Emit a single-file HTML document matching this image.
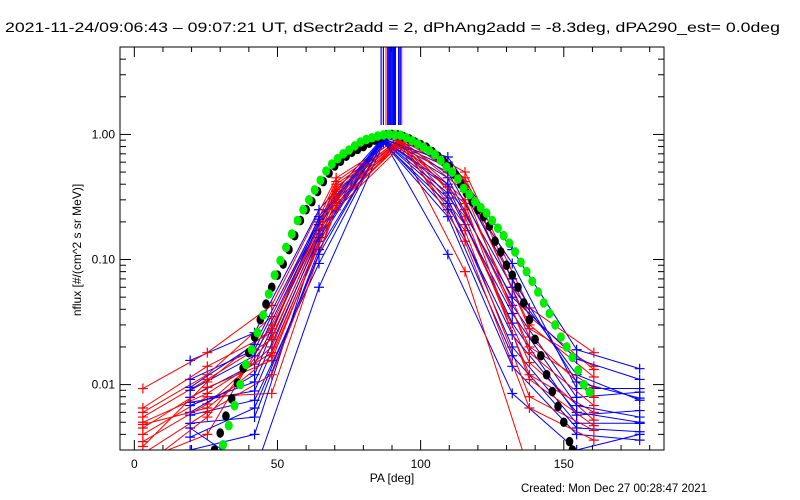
<!DOCTYPE html>
<html><head><meta charset="utf-8"><style>
body{margin:0;background:#fff;}
svg{display:block;font-family:"Liberation Sans",sans-serif;}
</style></head><body>
<svg id="chart" width="800" height="500" xmlns="http://www.w3.org/2000/svg">
<rect width="800" height="500" fill="#fff"/>
<text x="5" y="32" font-size="14" fill="#000" textLength="775" lengthAdjust="spacingAndGlyphs">2021-11-24/09:06:43 – 09:07:21 UT, dSectr2add = 2, dPhAng2add = -8.3deg, dPA290_est=  0.0deg</text>
<text x="521" y="492" font-size="11.5">Created: Mon Dec 27 00:28:47 2021</text>
<defs><clipPath id="clip"><rect x="120" y="47" width="544" height="403"/></clipPath></defs>
<g id="axes"></g>
<g id="marks" clip-path="url(#clip)"></g>
<rect x="120" y="47" width="544" height="403" fill="none" stroke="#000" stroke-width="1"/>
</svg>
<script>
const redAngles=[3,25.5,48,70.5,93,115.5,138,160.5];
const redSeries=[
[0.0093,0.018,0.043,0.45,0.95,0.50,0.041,0.018],
[0.0065,0.014,0.026,0.40,0.92,0.45,0.035,0.0132],
[0.0055,0.011,0.023,0.35,0.90,0.38,0.030,0.0115],
[0.0045,0.0095,0.0156,0.30,0.88,0.30,0.024,0.0079],
[0.004,0.008,0.0085,0.28,0.85,0.19,0.015,0.0052],
[0.0035,0.007,0.02,0.33,0.82,0.17,0.008,0.0043],
[0.0028,0.006,0.012,0.25,0.80,0.08,0.002,0.0025],
[0.0025,0.004,0.03,0.38,0.93,0.25,0.02,0.0095],
[0.006,0.012,0.035,0.42,0.97,0.42,0.028,0.014],
[0.005,0.0085,0.018,0.30,0.87,0.22,0.012,0.006],
[0.0032,0.0105,0.028,0.36,0.91,0.35,0.018,0.0068],
[0.0048,0.0065,0.017,0.27,0.84,0.28,0.011,0.0047],
[0.0022,0.0055,0.024,0.32,0.89,0.14,0.0065,0.0036]
];
const blueAngles=[19.5,42,64.5,87,109.5,132,154.5,176.5];
const blueSeries=[
[0.0156,0.026,0.25,0.95,0.66,0.12,0.019,0.0134],
[0.011,0.019,0.20,0.93,0.55,0.093,0.0093,0.0093],
[0.0079,0.0146,0.17,0.92,0.45,0.043,0.0079,0.0087],
[0.0072,0.0089,0.14,0.90,0.38,0.031,0.0057,0.0062],
[0.0057,0.0075,0.093,0.88,0.31,0.02,0.0049,0.0049],
[0.0049,0.0055,0.12,0.86,0.22,0.014,0.004,0.0036],
[0.003,0.004,0.16,0.90,0.11,0.0085,0.003,0.004],
[0.006,0.012,0.22,0.94,0.50,0.06,0.012,0.0075],
[0.0045,0.002,0.06,0.85,0.28,0.025,0.006,0.005],
[0.009,0.017,0.19,0.91,0.40,0.05,0.016,0.011],
[0.0068,0.0105,0.15,0.89,0.34,0.037,0.0068,0.0055],
[0.0038,0.0065,0.11,0.87,0.25,0.017,0.0045,0.0042],
[0.0095,0.021,0.21,0.92,0.60,0.07,0.0105,0.0078]
];
const greenPA=[31,33,35,37,39,41,43,45,47,49,51,53,55,57,59,61,63,65,67,69,71,73,75,77,79,81,83,85,87,89,91,93,95,97,99,101,103,105,107,109,111,113,115,117,119,121,123,125,127,129,131,133,135,137,139,141,143,145,147,149,151,153,155,157,159];
const greenVal=[0.0033,0.0047,0.0068,0.0100,0.0145,0.019,0.026,0.036,0.053,0.075,0.098,0.125,0.16,0.205,0.25,0.30,0.36,0.43,0.51,0.58,0.64,0.70,0.75,0.81,0.87,0.91,0.94,0.97,0.99,1.0,0.99,0.985,0.94,0.89,0.84,0.79,0.74,0.69,0.62,0.55,0.50,0.44,0.37,0.33,0.29,0.26,0.235,0.205,0.178,0.155,0.135,0.115,0.095,0.08,0.067,0.055,0.045,0.037,0.030,0.024,0.020,0.0165,0.013,0.010,0.0087];
const blackPA=[28,30,32,34,36,38,40,42,44,46,48,50,52,54,56,58,60,62,64,66,68,70,72,74,76,78,80,82,84,86,88,90,92,94,96,98,100,102,104,106,108,110,112,114,116,118,120,122,124,126,128,130,132,134,136,138,140,142,144,146,148,150,152,153];
const blackVal=[0.003,0.0041,0.0056,0.0077,0.0103,0.0135,0.018,0.024,0.033,0.044,0.06,0.075,0.092,0.12,0.155,0.205,0.25,0.29,0.35,0.42,0.49,0.56,0.61,0.67,0.72,0.76,0.80,0.85,0.90,0.95,0.99,1.0,0.99,0.96,0.92,0.87,0.83,0.79,0.73,0.67,0.61,0.55,0.48,0.40,0.34,0.29,0.25,0.22,0.185,0.14,0.115,0.09,0.075,0.06,0.045,0.033,0.023,0.017,0.012,0.0088,0.0067,0.005,0.0035,0.003];
const topBlue=[86.2,87.0,88.5,88.9,89.3,89.7,90.1,90.5,90.9,91.2,92.3,92.9];
const topRed=[87.9,92.6,93.4];
const xTicks=[0,50,100,150];
const yTicks=[0.01,0.1,1];
const yTickLabels=["0.01","0.10","1.00"];

const NS="http://www.w3.org/2000/svg";
const X0=120,X1=664,Y0=47,Y1=450,XMIN=-5,XMAX=185,LMIN=Math.log10(0.003),LMAX=Math.log10(5);
function sx(v){return X0+(v-XMIN)/(XMAX-XMIN)*(X1-X0);}
function sy(v){return Y1-(Math.log10(v)-LMIN)/(LMAX-LMIN)*(Y1-Y0);}
function el(t,a,p){const e=document.createElementNS(NS,t);for(const k in a)e.setAttribute(k,a[k]);p.appendChild(e);return e;}
const axes=document.getElementById('axes'),marks=document.getElementById('marks');

for(let v=0;v<=180;v+=10){
  const major=v%50===0,len=major?10:5;
  const t1=el('line',{x1:sx(v),x2:sx(v),y1:Y1,y2:Y1-len,stroke:'#000'},axes);
  
  
  const t2=el('line',{x1:sx(v),x2:sx(v),y1:Y0,y2:Y0+len,stroke:'#000'},axes);
  
  
}
xTicks.forEach(v=>{
  const t=el('text',{x:sx(v),y:468,'font-size':12,'text-anchor':'middle'},axes);t.textContent=v;
  
  
});
for(let d=-3;d<=0;d++){for(let m=1;m<=9;m++){
  const v=m*Math.pow(10,d);if(v<0.003||v>5)continue;
  const len=m===1?11:6;
  const t1=el('line',{x1:X0,x2:X0+len,y1:sy(v),y2:sy(v),stroke:'#000'},axes);
  
  
  const t2=el('line',{x1:X1,x2:X1-len,y1:sy(v),y2:sy(v),stroke:'#000'},axes);
  
  
}}
yTicks.forEach((v,i)=>{
  const t=el('text',{x:115,y:sy(v)+4,'font-size':12,'text-anchor':'end'},axes);t.textContent=yTickLabels[i];
  
  
});
const xt=el('text',{x:392,y:482,'font-size':12,'text-anchor':'middle'},axes);xt.textContent='PA [deg]';


const yt=el('text',{x:0,y:0,'font-size':12,'text-anchor':'middle',transform:'translate(81,250) rotate(-90)'},axes);yt.textContent='nflux [#/(cm^2 s sr MeV)]';



function series(angles,vals,color,name){
  const g=el('g',{},marks);
  
  
  const pts=angles.map((a,i)=>sx(a).toFixed(1)+','+sy(vals[i]).toFixed(1)).join(' ');
  el('polyline',{points:pts,fill:'none',stroke:color,'stroke-width':1},g);
  angles.forEach((a,i)=>{const x=sx(a),y=sy(vals[i]);
    el('path',{d:`M${x-5},${y}H${x+5}M${x},${y-5}V${y+5}`,stroke:color,'stroke-width':1.2},g);});
}
for(let i=0;i<Math.max(redSeries.length,blueSeries.length);i++){
  if(blueSeries[i])series(blueAngles,blueSeries[i],'#0000ff','blue-series');
  if(redSeries[i])series(redAngles,redSeries[i],'#ff0000','red-series');
}
topBlue.forEach(a=>{const l=el('line',{x1:sx(a),x2:sx(a),y1:Y0,y2:125,stroke:'#0000ff','stroke-width':1.2},marks);
  
  });
topRed.forEach(a=>{const l=el('line',{x1:sx(a),x2:sx(a),y1:Y0,y2:125,stroke:'#ff0000','stroke-width':1},marks);
  
  });
blackPA.forEach((a,i)=>{const c=el('ellipse',{cx:sx(a),cy:sy(blackVal[i]),rx:3.8,ry:4.8,fill:'#000'},marks);
  
  });
greenPA.forEach((a,i)=>{const c=el('ellipse',{cx:sx(a),cy:sy(greenVal[i]),rx:4,ry:4.8,fill:'#00ee00'},marks);
  
  });
</script>
</body></html>
